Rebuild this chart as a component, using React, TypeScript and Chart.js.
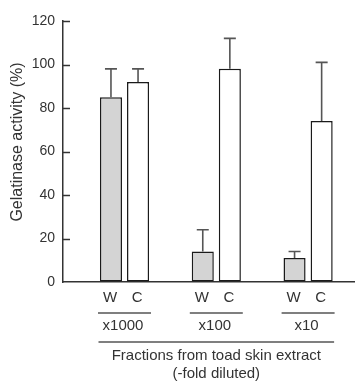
import React, { useEffect, useRef } from 'react';
import { Chart, registerables } from 'chart.js';

Chart.register(...registerables);

const groups = ['x1000', 'x100', 'x10'];
const subLabels = ['W', 'C'];
const wValues = [85, 14, 11];
const cValues = [92, 98, 74];
const wErrors = [13, 10, 3];
const cErrors = [6, 14, 27];
const yTicks = [0, 20, 40, 60, 80, 100, 120];
const yTitle = 'Gelatinase activity (%)';
const xTitle = ['Fractions from toad skin extract', '(-fold diluted)'];

const FONT = "'Liberation Sans', Arial, Helvetica, sans-serif";
const TEXT = '#333333';
const LINE = '#555555';

const annotPlugin = {
  id: 'annot',
  afterDatasetsDraw(chart: any) {
    const { ctx, scales, chartArea } = chart;
    const y = scales.y;
    const x = scales.x;
    const errs = [wErrors, cErrors];
    ctx.save();
    // error bars
    ctx.strokeStyle = LINE;
    ctx.lineWidth = 1.6;
    chart.data.datasets.forEach((ds: any, di: number) => {
      const meta = chart.getDatasetMeta(di);
      meta.data.forEach((bar: any, i: number) => {
        const v = ds.data[i].y;
        const top = y.getPixelForValue(v + errs[di][i]);
        ctx.beginPath();
        ctx.moveTo(bar.x, bar.y);
        ctx.lineTo(bar.x, top);
        ctx.moveTo(bar.x - 6, top);
        ctx.lineTo(bar.x + 6, top);
        ctx.stroke();
      });
    });
    // inward y ticks
    ctx.strokeStyle = TEXT;
    ctx.lineWidth = 1.5;
    yTicks.forEach((t) => {
      if (t === 0) return;
      const py = Math.round(y.getPixelForValue(t)) + 0.5;
      ctx.beginPath();
      ctx.moveTo(chartArea.left, py);
      ctx.lineTo(chartArea.left + 7, py);
      ctx.stroke();
    });
    // sub labels W / C
    ctx.fillStyle = TEXT;
    ctx.textAlign = 'center';
    ctx.textBaseline = 'middle';
    ctx.font = `15px ${FONT}`;
    chart.data.datasets.forEach((_ds: any, di: number) => {
      const meta = chart.getDatasetMeta(di);
      meta.data.forEach((bar: any) => {
        ctx.fillText(subLabels[di], bar.x - 1, 298);
      });
    });
    // group brackets and labels
    ctx.strokeStyle = LINE;
    ctx.lineWidth = 1.5;
    groups.forEach((g, i) => {
      const cx = x.getPixelForValue(i + 1);
      ctx.beginPath();
      ctx.moveTo(cx - 26.5, 313);
      ctx.lineTo(cx + 26.5, 313);
      ctx.stroke();
      ctx.fillText(g, cx - 1.5, 326);
    });
    const first = x.getPixelForValue(1);
    const last = x.getPixelForValue(groups.length);
    ctx.beginPath();
    ctx.moveTo(first - 26, 342);
    ctx.lineTo(last + 26, 342);
    ctx.stroke();
    const mid = (first + last) / 2;
    ctx.fillText(xTitle[0], mid, 356);
    ctx.fillText(xTitle[1], mid, 374);
    // y title
    ctx.save();
    ctx.translate(18, 142);
    ctx.rotate(-Math.PI / 2);
    ctx.font = `16px ${FONT}`;
    ctx.fillText(chart.options.scales.y.title.text, 0, 0);
    ctx.restore();
    ctx.restore();
  },
};

export default function App() {
  const ref = useRef<HTMLCanvasElement>(null);
  useEffect(() => {
    if (!ref.current) return;
    const chart = new Chart(ref.current, {
      type: 'bar',
      data: {
        datasets: [
          {
            label: subLabels[0],
            data: wValues.map((v, i) => ({ x: i + 1, y: v })),
            backgroundColor: '#d4d4d4',
            borderColor: '#1a1a1a',
            borderWidth: 1.5,
            borderSkipped: false,
          },
          {
            label: subLabels[1],
            data: cValues.map((v, i) => ({ x: i + 1, y: v })),
            backgroundColor: '#ffffff',
            borderColor: '#1a1a1a',
            borderWidth: 1.5,
            borderSkipped: false,
          },
        ],
      },
      options: {
        responsive: false,
        animation: false,
        categoryPercentage: 0.59,
        barPercentage: 0.815,
        layout: { padding: { top: 21, right: 1, left: 0, bottom: 0 } },
        plugins: { legend: { display: false }, tooltip: { enabled: false } },
        scales: {
          x: {
            type: 'linear',
            min: 0.33,
            max: 3.5,
            offset: false,
            grid: { display: true, drawOnChartArea: false, drawTicks: false },
            border: { display: true, color: TEXT, width: 1.5 },
            ticks: { display: false },
            afterBuildTicks: (s: any) => {
              s.ticks = groups.map((_g, i) => ({ value: i + 1 }));
            },
            afterFit: (s: any) => {
              s.height = 100;
            },
          },
          y: {
            min: 0,
            max: 120,
            grid: { display: true, drawOnChartArea: false, drawTicks: false },
            border: { display: true, color: TEXT, width: 1.5 },
            ticks: {
              stepSize: 20,
              padding: 8,
              color: TEXT,
              font: { family: FONT, size: 14 },
            },
            title: { display: false, text: yTitle },
            afterFit: (s: any) => {
              s.width = 63;
            },
          },
        },
      } as any,
      plugins: [annotPlugin],
    });
    return () => chart.destroy();
  }, []);
  return (
    <div style={{ position: 'absolute', left: 0, top: 0, width: 355, height: 382, background: '#fff' }}>
      <canvas ref={ref} width={355} height={382} />
    </div>
  );
}
